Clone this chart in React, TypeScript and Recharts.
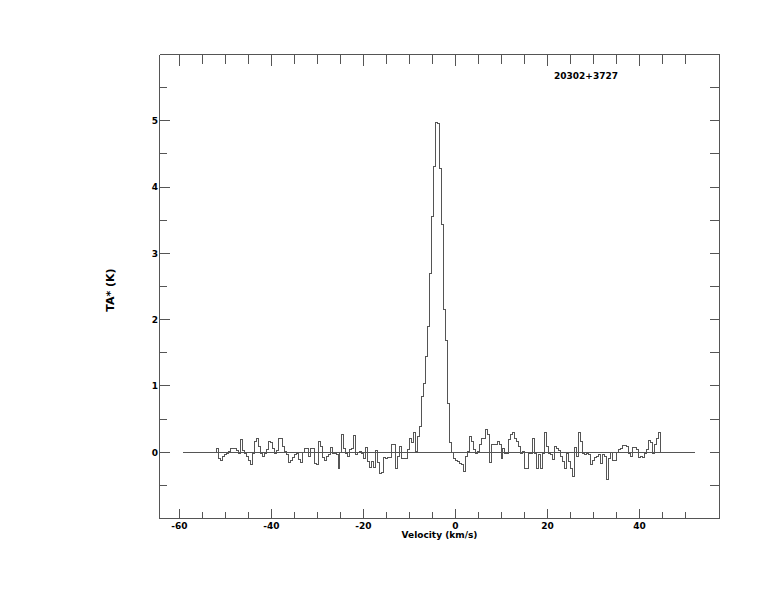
import React from 'react';
import { LineChart, Line, XAxis, YAxis, ReferenceLine } from 'recharts';

const TITLE = '20302+3727';
const X_LABEL = 'Velocity (km/s)';
const Y_LABEL = 'TA* (K)';

// spectrum channels: first channel left edge and channel width (km/s)
const V_START = -51.86;
const CHANNEL_WIDTH = 0.432;

// antenna temperature per channel (K)
const TA_VALUES = [
  0.05, -0.09, -0.13, -0.06, -0.04, -0.02, 0.01, 0.05, 0.06, 0.06,
  0.03, -0.02, 0.19, 0.03, -0.02, -0.06, -0.12, -0.18, -0.02, 0.16,
  0.21, 0.09, -0.02, -0.07, -0.02, 0.04, 0.16, 0.14, 0.06, -0.02,
  0.03, 0.2, 0.2, 0.09, 0.01, -0.04, -0.16, -0.13, -0.08, -0.04,
  -0.02, -0.11,
  -0.16, 0.0, 0.05, 0.06, -0.07, 0.05, 0.06, -0.17, -0.18, 0.16,
  0.09, -0.08, -0.13, -0.07, -0.04, 0.07, -0.02, -0.02, -0.03, -0.24,
  0.0, 0.26, 0.06, -0.02, -0.06, 0.04, 0.06, 0.25, -0.03, 0.0,
  0.01, -0.02, -0.09, 0.07, -0.14, -0.23, -0.14, -0.23, 0.03, -0.16,
  -0.32, -0.31, -0.08, -0.09,
  -0.08, -0.08, 0.11, 0.11, -0.24, -0.07, 0.08, -0.09, -0.09, -0.09,
  0.04, 0.21, 0.14, 0.29, 0.01, 0.24, 0.39, 0.84, 1.04, 1.44,
  1.89, 2.7, 3.55, 4.31, 4.98, 4.96, 4.28, 3.43, 2.15, 1.69,
  0.74, 0.14, 0.0, -0.09, -0.12, -0.14, -0.17, -0.19, -0.29, -0.07,
  0.01, 0.24,
  0.16, 0.04, -0.02, 0.01, 0.11, 0.2, 0.2, 0.34, 0.26, -0.16,
  0.11, 0.11, 0.11, 0.16, 0.11, -0.09, 0.06, -0.02, -0.02, 0.19,
  0.26, 0.29, 0.21, 0.16, 0.09, -0.02, 0.01, -0.24, -0.24, -0.02,
  -0.02, 0.21, -0.02, -0.24, -0.04, -0.24, -0.02, 0.29, 0.08, -0.02,
  -0.04, -0.11, 0.08, 0.06, 0.03,
  -0.07, -0.14, -0.24, -0.02, -0.14, -0.24, -0.37, 0.07, -0.07, 0.29,
  0.16, -0.02, -0.03, -0.02, -0.03, -0.19, -0.12, -0.08, -0.07, -0.04,
  -0.17, -0.04, -0.06, -0.41, -0.09, 0.0, -0.13, -0.13, -0.01, 0.04,
  0.06, 0.1, 0.1, 0.09, -0.02, -0.06, 0.07, 0.07, 0.04, -0.08,
  -0.07, -0.08, -0.02, 0.04, 0.17, 0.14, -0.02, 0.11, 0.21, 0.29,
];

const X_TICKS = [-60, -55, -50, -45, -40, -35, -30, -25, -20, -15, -10, -5, 0, 5, 10, 15, 20, 25, 30, 35, 40, 45, 50];
const X_LABELED = [-60, -40, -20, 0, 20, 40];
const Y_TICKS = [-0.5, 0, 0.5, 1, 1.5, 2, 2.5, 3, 3.5, 4, 4.5, 5, 5.5];
const Y_LABELED = [0, 1, 2, 3, 4, 5];
const X_DOMAIN = [-64.3, 57.4];
const Y_DOMAIN = [-1, 6];
const BASELINE_X = [-59.3, 52.1];

const data = [
  { v: V_START, t: 0 },
  ...TA_VALUES.map((t, i) => ({ v: V_START + i * CHANNEL_WIDTH, t })),
  { v: V_START + TA_VALUES.length * CHANNEL_WIDTH, t: 0 },
];

// layout
const MARGIN = { top: 34.5, right: 34.5, bottom: 53.5, left: 99.5 };
const TOP_AXIS_H = 20;
const PLOT_TOP = MARGIN.top + TOP_AXIS_H;

const AXIS = '#555555';
const FONT = '"DejaVu Sans", Verdana, sans-serif';

const BottomTick = (props: any) => {
  const { x, y, payload } = props;
  const val = payload.value;
  const major = X_LABELED.includes(val);
  return (
    <g>
      <line x1={x} y1={y} x2={x} y2={y - (major ? 10 : 7)} stroke={AXIS} />
      <line x1={x} y1={PLOT_TOP} x2={x} y2={PLOT_TOP + (major ? 11 : 9)} stroke={AXIS} />
      {major && (
        <text x={x} y={y + 10} textAnchor="middle" fontFamily={FONT} fontWeight="bold" fontSize={9} fill="#000">
          {val}
        </text>
      )}
    </g>
  );
};

const LeftTick = (props: any) => {
  const { x, y, payload } = props;
  const val = payload.value;
  const major = Y_LABELED.includes(val);
  return (
    <g>
      <line x1={x} y1={y} x2={x + (major ? 10 : 7)} y2={y} stroke={AXIS} />
      {major && (
        <text x={x - 1.5} y={y + 3.3} textAnchor="end" fontFamily={FONT} fontWeight="bold" fontSize={9} fill="#000">
          {val}
        </text>
      )}
    </g>
  );
};

const RightTick = (props: any) => {
  const { x, y } = props;
  return <line x1={x} y1={y} x2={x - 10} y2={y} stroke={AXIS} />;
};

export default function App() {
  return (
    <div style={{ position: 'absolute', left: 0, top: 0, width: 774, height: 612, background: '#fff', shapeRendering: 'crispEdges' } as any}>
      <LineChart width={774} height={612} data={data} margin={MARGIN}>
        <XAxis
          dataKey="v"
          type="number"
          domain={X_DOMAIN}
          ticks={X_TICKS}
          interval={0}
          height={40}
          tickSize={0}
          tickMargin={0}
          tickLine={false}
          axisLine={{ stroke: AXIS }}
          tick={<BottomTick />}
          allowDataOverflow
        />
        <XAxis
          xAxisId="top"
          orientation="top"
          dataKey="v"
          type="number"
          domain={X_DOMAIN}
          height={TOP_AXIS_H}
          tickLine={false}
          axisLine={{ stroke: AXIS }}
          tick={false}
          allowDataOverflow
        />
        <YAxis
          type="number"
          domain={Y_DOMAIN}
          ticks={Y_TICKS}
          interval={0}
          width={60}
          tickSize={0}
          tickMargin={0}
          tickLine={false}
          axisLine={{ stroke: AXIS }}
          tick={<LeftTick />}
          allowDataOverflow
        />
        <YAxis
          yAxisId="right"
          orientation="right"
          type="number"
          domain={Y_DOMAIN}
          ticks={Y_TICKS}
          interval={0}
          width={20}
          tickSize={0}
          tickMargin={0}
          tickLine={false}
          axisLine={{ stroke: AXIS }}
          tick={<RightTick />}
          allowDataOverflow
        />
        <ReferenceLine
          segment={[{ x: BASELINE_X[0], y: 0 }, { x: BASELINE_X[1], y: 0 }]}
          stroke={AXIS}
          strokeWidth={1}
          ifOverflow="extendDomain"
        />
        <Line
          type="stepAfter"
          dataKey="t"
          stroke={AXIS}
          strokeWidth={1}
          dot={false}
          activeDot={false}
          isAnimationActive={false}
        />
      </LineChart>
      <svg width={774} height={612} style={{ position: 'absolute', left: 0, top: 0, pointerEvents: 'none' }}>
        <text x={586} y={78.5} textAnchor="middle" fontFamily={FONT} fontWeight="bold" fontSize={9} fill="#000">
          {TITLE}
        </text>
        <text x={439.5} y={538} textAnchor="middle" fontFamily={FONT} fontWeight="bold" fontSize={9} fill="#000">
          {X_LABEL}
        </text>
        <text x={113.5} y={290} textAnchor="middle" fontFamily={FONT} fontWeight="bold" fontSize={11} fill="#000" transform="rotate(-90 113.5 290)">
          {Y_LABEL}
        </text>
      </svg>
    </div>
  );
}
